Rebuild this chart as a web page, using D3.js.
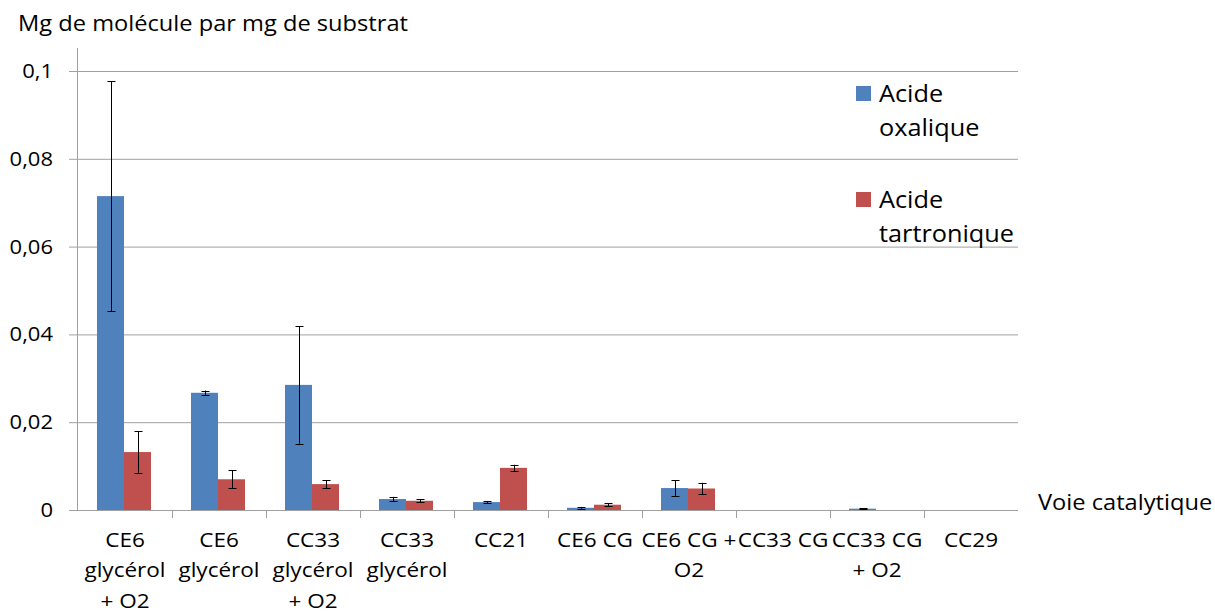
<!DOCTYPE html>
<html><head><meta charset="utf-8">
<script src="https://cdn.jsdelivr.net/npm/d3@7"></script>
<style>
html,body{margin:0;padding:0;background:#fff;}
svg{display:block;font-family:"Open Sans", Lato, sans-serif;}
</style></head>
<body>
<svg id="chart" width="1215" height="614"></svg>
<script>
const categories = ["CE6 glycérol + O2","CE6 glycérol","CC33 glycérol + O2","CC33 glycérol","CC21","CE6 CG","CE6 CG + O2","CC33 CG","CC33 CG + O2","CC29"];
const categoryLines = [["CE6","glycérol","+ O2"],["CE6","glycérol"],["CC33","glycérol","+ O2"],["CC33","glycérol"],["CC21"],["CE6 CG"],["CE6 CG +","O2"],["CC33 CG"],["CC33 CG","+ O2"],["CC29"]];
const seriesNames = ["Acide oxalique","Acide tartronique"];
const legendLines = [["Acide","oxalique"],["Acide","tartronique"]];
const oxalique = [0.0715,0.0267,0.0285,0.0025,0.0018,0.0005,0.0050,0,0.0003,0];
const oxaliqueErr = [0.0262,0.0005,0.0134,0.0005,0.0002,0.0002,0.0018,0,0.0001,0];
const tartronique = [0.0132,0.0070,0.0059,0.0021,0.0096,0.0012,0.0049,0,0,0];
const tartroniqueErr = [0.0047,0.0021,0.0009,0.0003,0.0007,0.0003,0.0013,0,0,0];
const yTicks = [0,0.02,0.04,0.06,0.08,0.1];
const yTickLabels = ["0","0,02","0,04","0,06","0,08","0,1"];
const yTitle = "Mg de molécule par mg de substrat";
const xTitle = "Voie catalytique";
const colors = ["#4F81BD","#C0504D"];

const svg = d3.select("#chart");
const pLeft = 78, pRight = 1018, pTop = 71, pBottom = 510;
const x = d3.scaleBand().domain(categories).range([pLeft, pRight]);
const x1 = d3.scaleBand().domain(seriesNames).range([19, 73]);
const y = d3.scaleLinear().domain([0, 0.1]).range([pBottom, pTop]);
const gridColor = "#a0a0a0";
const SX = 1.1; // horizontal text stretch (reference glyphs are wide)

// helper: text anchored at (tx, ty) with horizontal stretch
function stretchedText(parent, tx, ty, size, anchor) {
  return parent.append("g").attr("transform", `translate(${tx},${ty}) scale(${SX},1)`)
    .append("text").attr("x", 0).attr("y", 0)
    .attr("font-size", size).attr("text-anchor", anchor || "start").attr("fill", "#000");
}

// gridlines + y ticks
const yg = svg.append("g");
yg.selectAll("line.grid").data(yTicks.slice(1)).join("line")
  .attr("x1", pLeft).attr("x2", pRight)
  .attr("y1", d => y(d)+0.5).attr("y2", d => y(d)+0.5)
  .attr("stroke", gridColor).attr("stroke-width", 1);
yg.selectAll("line.tk").data(yTicks).join("line")
  .attr("x1", pLeft-9).attr("x2", pLeft)
  .attr("y1", d => y(d)+0.5).attr("y2", d => y(d)+0.5)
  .attr("stroke", gridColor);
yTicks.forEach((d,i) => {
  stretchedText(yg, 53, y(d)+7, 20, "end").text(yTickLabels[i]);
});
// y axis line
svg.append("line").attr("x1", pLeft-0.5).attr("x2", pLeft-0.5)
  .attr("y1", pTop-23).attr("y2", pBottom).attr("stroke", gridColor);

// bars
const series = [
  {name: seriesNames[0], values: oxalique, err: oxaliqueErr, color: colors[0]},
  {name: seriesNames[1], values: tartronique, err: tartroniqueErr, color: colors[1]}
];
series.forEach(s => {
  const g = svg.append("g");
  const data = categories.map((c,i) => ({c, v: s.values[i], e: s.err[i]}));
  g.selectAll("rect").data(data).join("rect")
    .attr("x", d => x(d.c) + x1(s.name))
    .attr("width", x1.bandwidth())
    .attr("y", d => y(d.v))
    .attr("height", d => y(0) - y(d.v))
    .attr("fill", s.color);
});

// x axis line and ticks
svg.append("line").attr("x1", pLeft).attr("x2", pRight)
  .attr("y1", pBottom+0.5).attr("y2", pBottom+0.5).attr("stroke", gridColor);
svg.append("g").selectAll("line").data(categories.slice(1)).join("line")
  .attr("x1", d => x(d)+0.5).attr("x2", d => x(d)+0.5)
  .attr("y1", pBottom).attr("y2", pBottom+8).attr("stroke", gridColor);

// error bars
series.forEach(s => {
  const g = svg.append("g").attr("stroke", "#000").attr("stroke-width", 1);
  const data = categories.map((c,i) => ({c, v: s.values[i], e: s.err[i]})).filter(d => d.v > 0);
  const cx = d => Math.round(x(d.c) + x1(s.name) + x1.bandwidth()/2) + 0.5;
  g.selectAll("line.v").data(data).join("line")
    .attr("x1", cx).attr("x2", cx)
    .attr("y1", d => y(d.v + d.e)).attr("y2", d => y(d.v - d.e));
  g.selectAll("line.t").data(data).join("line")
    .attr("x1", d => cx(d)-4).attr("x2", d => cx(d)+4)
    .attr("y1", d => Math.round(y(d.v + d.e))+0.5).attr("y2", d => Math.round(y(d.v + d.e))+0.5);
  g.selectAll("line.b").data(data).join("line")
    .attr("x1", d => cx(d)-4).attr("x2", d => cx(d)+4)
    .attr("y1", d => Math.round(y(d.v - d.e))+0.5).attr("y2", d => Math.round(y(d.v - d.e))+0.5);
});

// category labels
const cl = svg.append("g");
categories.forEach((c,i) => {
  const t = stretchedText(cl, x(c) + x.bandwidth()/2, 547, 20.5, "middle");
  categoryLines[i].forEach((ln,j) => {
    t.append("tspan").attr("x", 0).attr("y", j*30.5).text(ln);
  });
});

// titles
stretchedText(svg, 18, 31, 21.5).text(yTitle);
stretchedText(svg, 1038, 510, 21.5).text(xTitle);

// legend
const lg = svg.append("g");
legendLines.forEach((lines, i) => {
  const base = 102 + i*106;
  lg.append("rect").attr("x", 856).attr("y", base-16).attr("width", 15).attr("height", 15).attr("fill", colors[i]);
  lines.forEach((ln, j) => {
    stretchedText(lg, 879, base + j*34, 23).text(ln);
  });
});
</script>
</body></html>
